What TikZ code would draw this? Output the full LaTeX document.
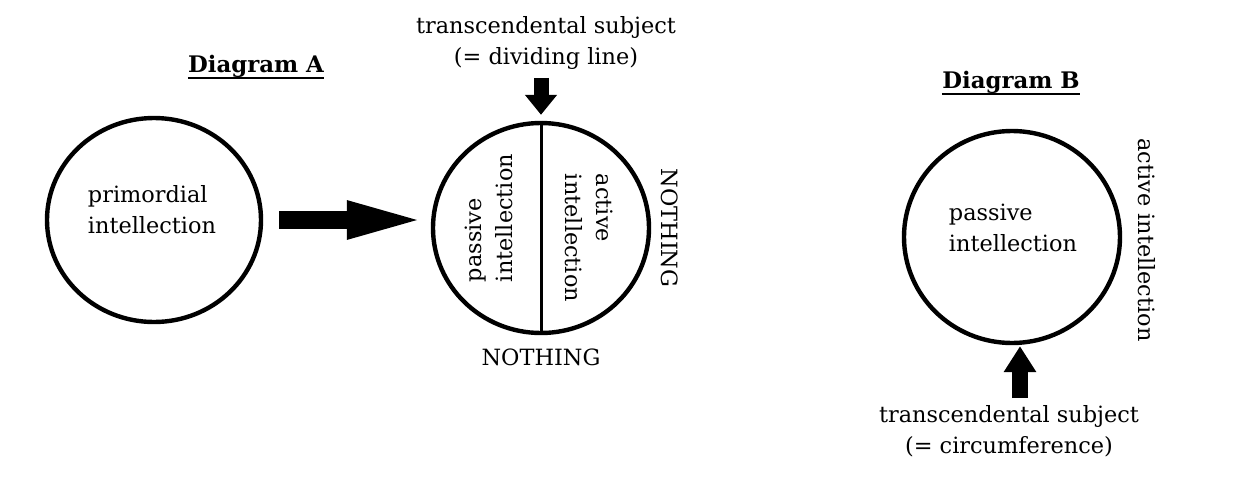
\documentclass[tikz,border=0pt]{standalone}
\usepackage{fontspec}
\setmainfont{DejaVu Serif}
\usetikzlibrary{arrows.meta,shapes.geometric,positioning}

\tikzset{
  ring/.style={ellipse, draw, line width=2.2pt, inner sep=0pt},
  lbl/.style={inner sep=1pt, font=\fontsize{11.2}{15.5}\selectfont},
  heading/.style={inner sep=0pt, font=\fontsize{11.4}{15}\selectfont\bfseries},
  underline/.style={line width=0.9pt}
}

\begin{document}
\begin{tikzpicture}[x=0.5pt, y=-0.5pt]
    \useasboundingbox (0,0) rectangle (1233,477);

    % Diagram A
    \node[heading] (headA) at (256,66) {Diagram A};
    \draw[underline] ([yshift=-3pt]headA.base west) -- ([yshift=-3pt]headA.base east);
    \node[ring, minimum width=107pt, minimum height=102pt] (prim) at (154,220) {};
    \node[lbl, align=left] (primtxt) at (152,210) {primordial\\intellection};

    \node[ring, minimum width=108pt, minimum height=105pt] (split) at (541,228) {};
    \draw[line width=1.5pt] (split.north) -- (split.south);
    \node[lbl, align=left, rotate=90] (passA) at (489,218) {passive\\intellection};
    \node[lbl, align=left, rotate=-90] (actA) at (589,238) {active\\intellection};
    \node[lbl, rotate=-90] (nothR) at (670,228) {NOTHING};
    \node[lbl] (nothB) at (541,357) {NOTHING};
    \node[lbl, align=center] (tsA) at (546,43) {transcendental subject\\(= dividing line)};

    % Arrows of Diagram A
    \draw[line width=9pt, -{Triangle[length=42pt,width=16.5pt]}, shorten <=8pt, shorten >=0pt]
      (prim.east) -- (prim.east -| split.west);
    \draw[line width=7.5pt, -{Triangle[length=10pt,width=15.5pt]}, shorten <=3pt, shorten >=3pt]
      (split.north |- tsA.south) -- (split.north);

    % Diagram B
    \node[heading] (headB) at (1011,82) {Diagram B};
    \draw[underline] ([yshift=-3pt]headB.base west) -- ([yshift=-3pt]headB.base east);
    \node[ring, minimum width=108pt, minimum height=106pt] (circB) at (1012,237) {};
    \node[lbl, align=left] (passB) at (1013,228) {passive\\intellection};
    \node[lbl, rotate=-90] (actB) at (1147,240) {active intellection};
    \node[lbl, align=center] (tsB) at (1009,431) {transcendental subject\\(= circumference)};

    % Arrow of Diagram B
    \coordinate (upB) at (1020,398);
    \draw[line width=8pt, -{Triangle[length=13pt,width=15.5pt]}, shorten >=0.5pt]
      (upB) -- (upB |- circB.south);
\end{tikzpicture}
\end{document}
